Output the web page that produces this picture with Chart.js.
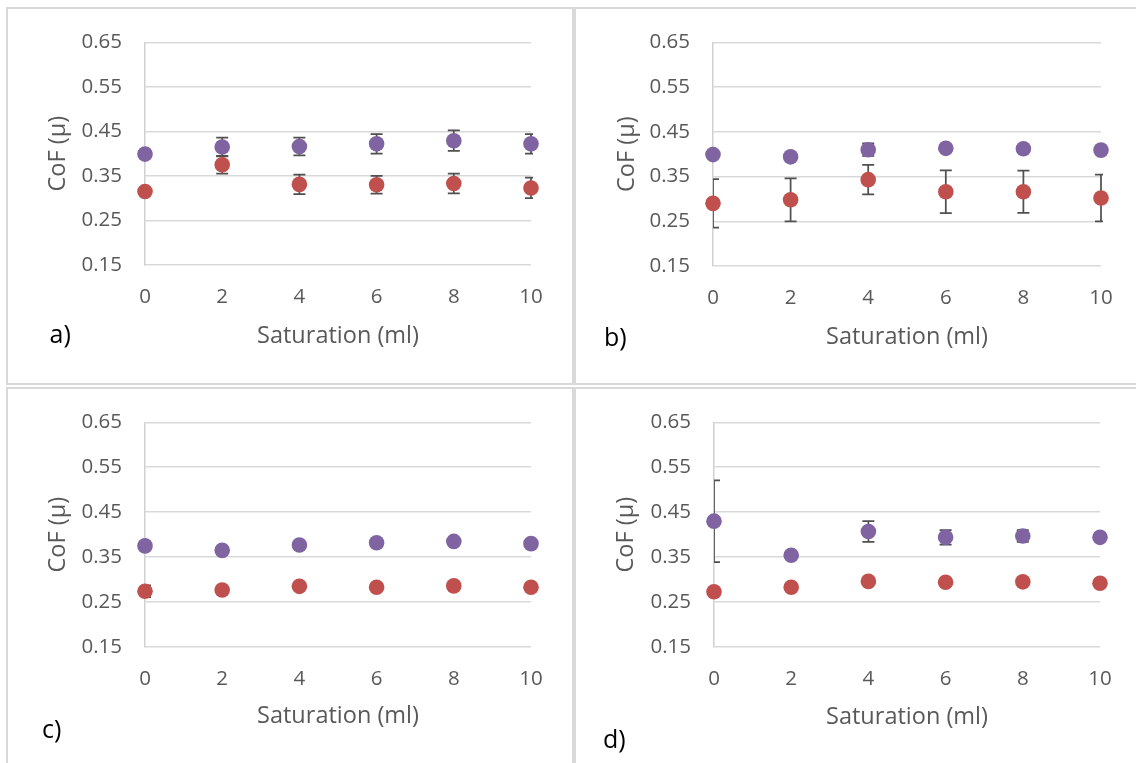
<!DOCTYPE html>
<html><head><meta charset="utf-8">
<script src="https://cdn.jsdelivr.net/npm/chart.js@4.4.1/dist/chart.umd.min.js"></script>
<style>
html,body{margin:0;padding:0;background:#fff;}
body{width:1136px;height:763px;overflow:hidden;position:relative;font-family:'Open Sans',sans-serif;}
.frame{position:absolute;box-sizing:border-box;border:2px solid #d9d9d9;pointer-events:none;}
canvas{position:absolute;}
.lbl{position:absolute;font-size:25px;line-height:25px;color:#000;white-space:nowrap;}
</style></head><body>
<script>
// ---- data ----
const saturation = [0, 2, 4, 6, 8, 10];
const yTicks = [0.15, 0.25, 0.35, 0.45, 0.55, 0.65];

const aPurple    = [0.399, 0.415, 0.416, 0.422, 0.429, 0.422];
const aPurpleErr = [0.004, 0.021, 0.020, 0.022, 0.023, 0.022];
const aRed       = [0.315, 0.375, 0.331, 0.330, 0.333, 0.323];
const aRedErr    = [0.004, 0.020, 0.022, 0.020, 0.022, 0.023];

const bPurple    = [0.399, 0.394, 0.410, 0.413, 0.412, 0.409];
const bPurpleErr = [0.004, 0.005, 0.014, 0.005, 0.005, 0.005];
const bRed       = [0.290, 0.298, 0.343, 0.316, 0.316, 0.302];
const bRedErr    = [0.054, 0.048, 0.033, 0.048, 0.047, 0.052];

const cPurple    = [0.375, 0.365, 0.377, 0.382, 0.385, 0.380];
const cPurpleErr = [0.004, 0.004, 0.004, 0.004, 0.004, 0.004];
const cRed       = [0.274, 0.277, 0.285, 0.283, 0.286, 0.283];
const cRedErr    = [0.013, 0.004, 0.004, 0.004, 0.004, 0.004];

const dPurple    = [0.430, 0.354, 0.407, 0.394, 0.397, 0.394];
const dPurpleErr = [0.091, 0.004, 0.023, 0.016, 0.013, 0.005];
const dRed       = [0.273, 0.283, 0.296, 0.294, 0.295, 0.292];
const dRedErr    = [0.004, 0.004, 0.004, 0.004, 0.004, 0.004];

const panelLabels = ['a)', 'b)', 'c)', 'd)'];
const xTitle = 'Saturation (ml)';
const yTitle = 'CoF (µ)';

// ---- layout (page pixels) ----
const layouts = [
  {box:[6,7,568,378],   area:[145,531,36,265],  yTitleX:58.5,  xTitleY:336.5, lbl:[49.5,336]},
  {box:[574,7,562,378], area:[713,1101,36,266], yTitleX:627.4, xTitleY:337,   lbl:[604,339]},
  {box:[6,387,568,378], area:[145,531,416,647], yTitleX:58.5,  xTitleY:716.5, lbl:[42,731]},
  {box:[574,387,562,378], area:[714,1100,416,647], yTitleX:626.5, xTitleY:717, lbl:[603,741]}
];
const series = [
  [aPurple, aPurpleErr, aRed, aRedErr],
  [bPurple, bPurpleErr, bRed, bRedErr],
  [cPurple, cPurpleErr, cRed, cRedErr],
  [dPurple, dPurpleErr, dRed, dRedErr]
];

const PURPLE = '#8064A2', RED = '#C0504D', TEXT = '#595959';
const TICK_SIZE = 20.5, TITLE_SIZE = 23.5;

Chart.defaults.font.family = "'Open Sans', sans-serif";
Chart.defaults.color = TEXT;

const errorBars = {
  id: 'errorBars',
  beforeDatasetsDraw(chart) {
    const {ctx, chartArea: ca, scales: {x, y}} = chart;
    ctx.save();
    ctx.beginPath();
    ctx.rect(ca.left, ca.top - 30, ca.right - ca.left + 2, ca.bottom - ca.top + 60);
    ctx.clip();
    ctx.strokeStyle = '#505050';
    ctx.lineWidth = 1.75;
    const cap = 6;
    chart.data.datasets.forEach(ds => {
      if (!ds.errors) return;
      ds.data.forEach((p, i) => {
        const e = ds.errors[i];
        const px = x.getPixelForValue(p.x);
        const yt = y.getPixelForValue(p.y + e);
        const yb = y.getPixelForValue(p.y - e);
        ctx.beginPath();
        ctx.moveTo(px, yt); ctx.lineTo(px, yb);
        ctx.moveTo(px - cap, yt); ctx.lineTo(px + cap, yt);
        ctx.moveTo(px - cap, yb); ctx.lineTo(px + cap, yb);
        ctx.stroke();
      });
    });
    ctx.restore();
  }
};

layouts.forEach((L, k) => {
  const [bx, by, bw, bh] = L.box;
  const [al, ar, at, ab] = L.area;
  const lh = TITLE_SIZE * 1.2;
  const g = {};
  g.padLeft = L.yTitleX - bx - lh / 2;
  g.yW = al - bx - g.padLeft;
  g.padTop = at - by;
  g.padRight = bw - (ar - bx);
  const xBottom = L.xTitleY - by + lh / 2;
  g.padBottom = bh - xBottom;
  g.xH = xBottom - (ab - by);

  const cv = document.createElement('canvas');
  cv.width = bw; cv.height = bh;
  cv.style.left = bx + 'px'; cv.style.top = by + 'px';
  document.body.appendChild(cv);

  const fr = document.createElement('div');
  fr.className = 'frame';
  fr.style.left = bx + 'px'; fr.style.top = by + 'px';
  fr.style.width = (k % 2 ? bw + 10 : bw) + 'px';
  fr.style.height = (k >= 2 ? bh + 10 : bh) + 'px';
  document.body.appendChild(fr);

  const lb = document.createElement('div');
  lb.className = 'lbl';
  lb.textContent = panelLabels[k];
  lb.style.left = L.lbl[0] + 'px';
  lb.style.top = (L.lbl[1] - 15.5) + 'px';
  document.body.appendChild(lb);

  const [pv, pe, rv, re] = series[k];
  const ch = new Chart(cv, {
    type: 'scatter',
    data: {
      datasets: [
        {label: 'purple', data: saturation.map((x, i) => ({x, y: pv[i]})), errors: pe,
         backgroundColor: PURPLE, borderWidth: 0, pointRadius: 7.8, pointHoverRadius: 7.8, clip: false},
        {label: 'red', data: saturation.map((x, i) => ({x, y: rv[i]})), errors: re,
         backgroundColor: RED, borderWidth: 0, pointRadius: 7.8, pointHoverRadius: 7.8, clip: false}
      ]
    },
    options: {
      responsive: false, animation: false, devicePixelRatio: 1, events: [],
      layout: {autoPadding: false, padding: {left: g.padLeft, top: g.padTop, right: g.padRight, bottom: g.padBottom}},
      plugins: {legend: {display: false}, tooltip: {enabled: false}},
      scales: {
        x: {
          type: 'linear', min: 0, max: 10,
          afterBuildTicks: s => { s.ticks = saturation.map(v => ({value: v})); },
          afterFit: s => { s.height = g.xH; },
          ticks: {padding: 20, autoSkip: false, maxRotation: 0, font: {size: TICK_SIZE}, color: TEXT,
                  callback: v => String(v)},
          grid: {display: false, drawTicks: false},
          border: {display: false},
          title: {display: true, text: xTitle, padding: 0, color: TEXT, font: {size: TITLE_SIZE, lineHeight: 1.2}}
        },
        y: {
          type: 'linear', min: 0.15, max: 0.65,
          afterBuildTicks: s => { s.ticks = yTicks.map(v => ({value: v})); },
          afterFit: s => { s.width = g.yW; },
          ticks: {padding: 23, autoSkip: false, font: {size: TICK_SIZE}, color: TEXT,
                  callback: v => Number(v).toFixed(2)},
          grid: {color: '#d9d9d9', lineWidth: 1.5, drawTicks: false},
          border: {display: true, color: '#d0d0d0', width: 1.5},
          title: {display: true, text: yTitle, padding: 0, color: TEXT, font: {size: TITLE_SIZE, lineHeight: 1.2}}
        }
      }
    },
    plugins: [errorBars]
  });

  // correct the layout so the plot area lands where the reference has it
  for (let it = 0; it < 3; it++) {
    const ca = ch.chartArea;
    const dl = (al - bx) - ca.left;
    const dt = (at - by) - ca.top;
    const dr = (ar - bx) - ca.right;
    const db = (ab - by) - ca.bottom;
    if (Math.abs(dl) + Math.abs(dt) + Math.abs(dr) + Math.abs(db) < 0.5) break;
    g.yW += dl;
    g.padTop += dt;
    g.padRight -= dr;
    g.xH -= db;
    ch.options.layout.padding = {left: g.padLeft, top: g.padTop, right: g.padRight, bottom: g.padBottom};
    ch.update('none');
  }
});
</script>
</body></html>
